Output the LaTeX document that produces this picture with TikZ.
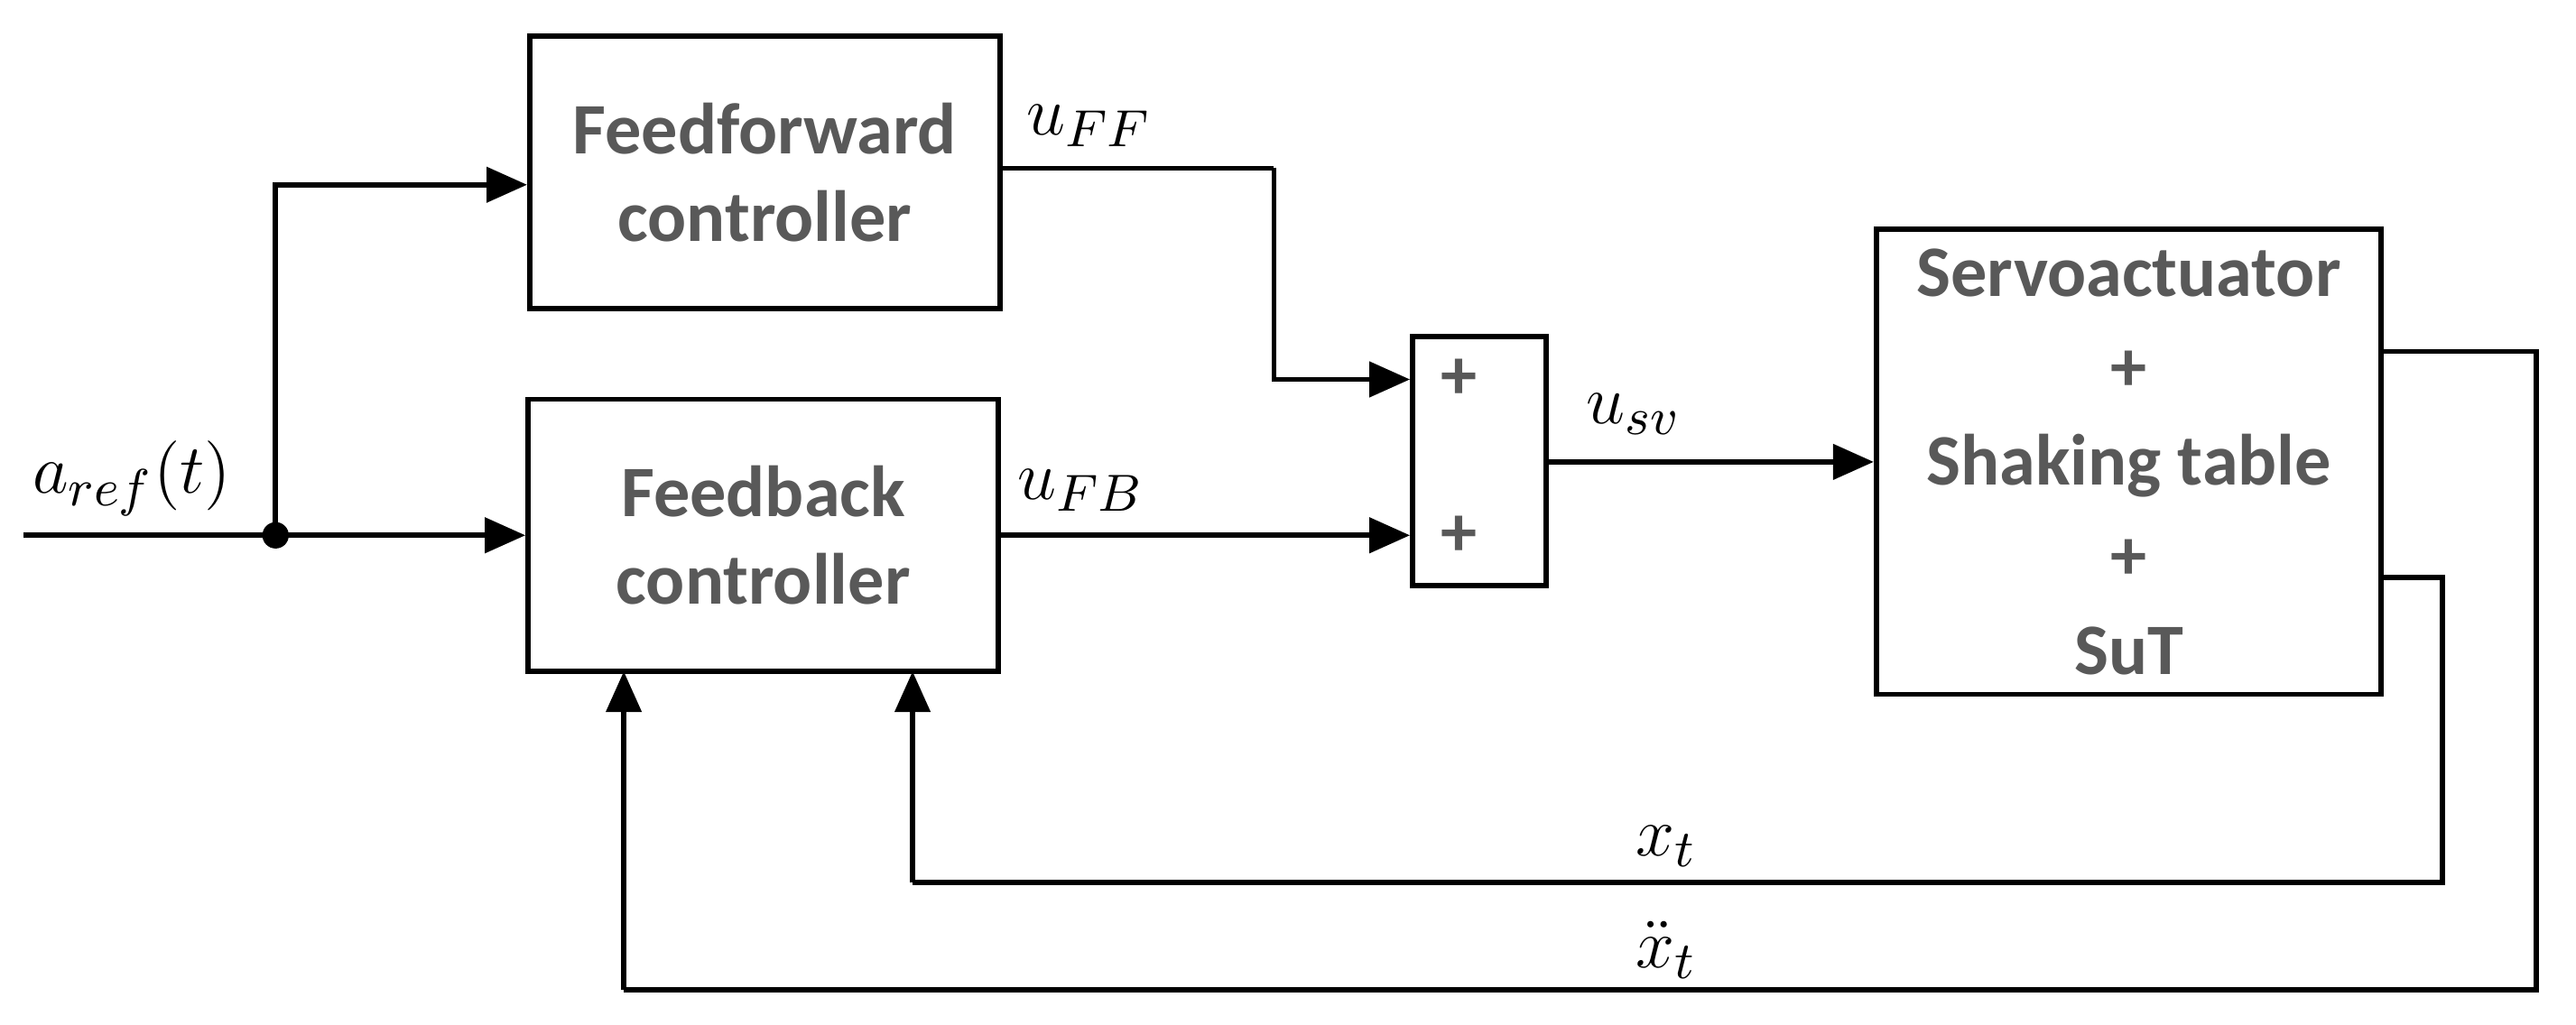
\documentclass[tikz,border=0pt]{standalone}
\usepackage{fontspec}
\setmainfont{Carlito}
\usetikzlibrary{arrows.meta}
\definecolor{txtgray}{HTML}{595959}
\tikzset{
  blk/.style={draw,line width=0.9pt,minimum width=2.85cm,minimum height=1.65cm,align=center,
              font=\fontsize{12.5}{15}\selectfont\bfseries,text=txtgray},
  wire/.style={line width=0.9pt},
  arr/.style={line width=0.9pt,-{Triangle[length=7pt,width=6pt]}},
  lbl/.style={font=\fontsize{13}{15}\selectfont}
}
\begin{document}
\begin{tikzpicture}[x=1cm,y=1cm]
        \useasboundingbox (0,0) rectangle (15.61,6.21);
        \node[blk] (ff) at (4.635,5.165) {Feedforward\\controller};
        \node[blk] (fb) at (4.625,2.965) {Feedback\\controller};
        \node[draw,line width=0.9pt,minimum width=0.81cm,minimum height=1.51cm] (sum) at (8.965,3.415) {};
        \node[font=\fontsize{12.5}{15}\selectfont\bfseries,text=txtgray] (p1) at (8.84,3.91) {+};
        \node[font=\fontsize{12.5}{15}\selectfont\bfseries,text=txtgray] (p2) at (8.84,2.96) {+};
        \node[blk,minimum width=3.06cm,minimum height=2.76cm,font=\fontsize{12.5}{16.3}\selectfont\bfseries] (sv) at (12.9,3.41) {Servoactuator\\+\\Shaking table\\+\\SuT};
%        inputs
        \coordinate (in) at (0.14,2.965);
        \coordinate (br) at (1.67,2.965);
        \fill (br) circle [radius=0.08];
        \draw [wire] (in) -- (br);
        \draw [arr] (br) -- (fb.west);
        \draw [arr] (br) |- (ff.west |- 0,5.09);
      \node[lbl] (aref) at (0.8,3.31) {$a_{ref}(t)$};
%        controllers to sum
        \coordinate (ffo) at (ff.east |- 0,5.19);
        \coordinate (k1) at (7.72,5.19);
        \draw [wire] (ffo) -- (k1);
        \draw [arr] (k1) |- (sum.west |- p1);
        \draw [arr] (fb.east) -- (sum.west |- fb.east);
      \node[lbl] (uff) at (6.6,5.45) {$u_{FF}$};
      \node[lbl] (ufb) at (6.55,3.24) {$u_{FB}$};
%        sum to servo
        \draw [arr] (sum.east |- 0,3.41) -- (sv.west |- 0,3.41);
      \node[lbl] (usv) at (9.9,3.7) {$u_{sv}$};
%        feedback paths
        \coordinate (a1) at (15.37,4.08);
        \coordinate (a2) at (15.37,0.21);
        \coordinate (b1) at (14.80,2.71);
        \coordinate (b2) at (14.80,0.86);
        \draw [wire] (sv.east |- a1) -- (a1) -- (a2) -- (3.78,0.21);
        \draw [arr] (3.78,0.21) -- (3.78,2.14);
        \draw [wire] (sv.east |- b1) -- (b1) -- (b2) -- (5.53,0.86);
        \draw [arr] (5.53,0.86) -- (5.53,2.14);
      \node[lbl] (xt) at (10.1,1.08) {$x_t$};
      \node[lbl] (xdd) at (10.1,0.45) {$\ddot{x}_t$};
    \end{tikzpicture}
\end{document}
